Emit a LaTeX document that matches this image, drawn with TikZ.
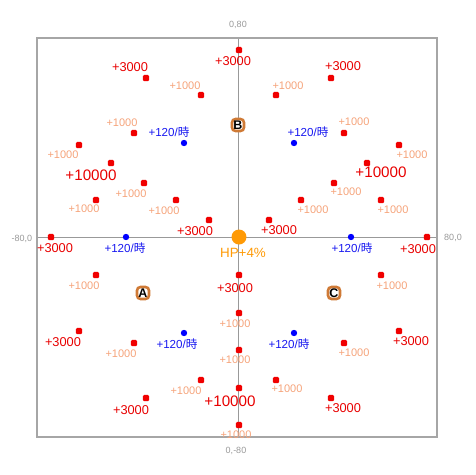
\documentclass[tikz,border=0pt]{standalone}
\usepackage{fontspec}
\setmainfont{Liberation Sans}
\newfontfamily\cjk{Noto Sans CJK JP}
\begin{document}
\begin{tikzpicture}[x=1pt,y=-1pt,
  rsq/.style={rectangle,fill=dotred,rounded corners=1.4pt,minimum size=6.4pt,inner sep=0pt},
  bdot/.style={circle,fill=blue,minimum size=6.4pt,inner sep=0pt},
  tbig/.style={text=txtred,font=\fontsize{12.8}{13}\selectfont,inner sep=0pt},
  thuge/.style={text=txtred,font=\fontsize{15.2}{16}\selectfont,inner sep=0pt},
  tlight/.style={text=lightsal,font=\fontsize{11}{12}\selectfont,inner sep=0pt},
  tblue/.style={text=txtblue,font=\fontsize{11.6}{12}\selectfont,inner sep=0pt},
  tax/.style={text=gray!80,font=\fontsize{9}{10}\selectfont,inner sep=0pt},
  mk/.style={draw=mkbrown,line width=2.6pt,fill=white,rounded corners=3.5pt,minimum size=12pt,inner sep=0pt,font=\fontsize{12.5}{12}\selectfont\bfseries},
]
\definecolor{lightsal}{HTML}{F5A37A}
\definecolor{mkbrown}{HTML}{CF7A36}
\definecolor{hporange}{HTML}{FF9A05}
\definecolor{dotred}{HTML}{F00000}
\definecolor{txtred}{HTML}{E80000}
\definecolor{txtblue}{HTML}{1818F0}
\useasboundingbox (0,0) rectangle (475,475);
% frame and axes
\coordinate (tl) at (37,38); \coordinate (br) at (437,437);
\coordinate (vt) at (238,38); \coordinate (vb) at (238,437);
\coordinate (hl) at (37,237); \coordinate (hr) at (437,237);
\draw[gray!80,line width=0.9pt] (vt) -- (vb);
\draw[gray!80,line width=0.9pt] (hl) -- (hr);
\draw[gray!70,line width=1.4pt] (tl) rectangle (br);
\node[tax] (ax1) at (238,25) {0,80};
\node[tax] (ax2) at (236,451) {0,-80};
\node[tax] (ax3) at (22,239) {-80,0};
\node[tax] (ax4) at (453,238) {80,0};
% red points
\foreach \n/\px/\py/\lx/\ly/\st/\tx in {
 1/146/78/130/67/tbig/+3000,
 2/201/95/185/86/tlight/+1000,
 3/134/133/122/123/tlight/+1000,
 4/79/145/63/155/tlight/+1000,
 5/111/163/91/175/thuge/+10000,
 6/144/183/131/194/tlight/+1000,
 7/96/200/84/209/tlight/+1000,
 8/176/200/164/211/tlight/+1000,
 9/209/220/195/231/tbig/+3000,
 10/51/237/55/248/tbig/+3000,
 11/239/50/233/61/tbig/+3000,
 12/331/78/343/66/tbig/+3000,
 13/276/95/288/86/tlight/+1000,
 14/344/133/354/122/tlight/+1000,
 15/399/145/412/155/tlight/+1000,
 16/367/163/381/172/thuge/+10000,
 17/334/183/346/192/tlight/+1000,
 18/301/200/313/210/tlight/+1000,
 19/381/200/393/210/tlight/+1000,
 20/269/220/279/230/tbig/+3000,
 21/427/237/418/249/tbig/+3000,
 22/239/275/235/288/tbig/+3000,
 23/239/313/235/324/tlight/+1000,
 24/239/350/235/360/tlight/+1000,
 25/239/388/230/401/thuge/+10000,
 26/239/425/236/435/tlight/+1000,
 27/96/275/84/286/tlight/+1000,
 28/79/331/63/342/tbig/+3000,
 29/134/343/121/354/tlight/+1000,
 30/201/380/186/391/tlight/+1000,
 31/146/398/131/410/tbig/+3000,
 32/381/275/392/286/tlight/+1000,
 33/399/331/411/341/tbig/+3000,
 34/344/343/354/353/tlight/+1000,
 35/276/380/287/389/tlight/+1000,
 36/331/398/343/408/tbig/+3000}{
  \node[rsq] (r\n) at (\px,\py) {};
  \node[\st] (rl\n) at (\lx,\ly) {\tx};
}
% blue points
\foreach \n/\px/\py/\lx/\ly in {
 1/184/143/169/132, 2/294/143/308/132, 3/126/237/125/248,
 4/351/237/352/248, 5/184/333/177/344, 6/294/333/289/344}{
  \node[bdot] (b\n) at (\px,\py) {};
  \node[tblue] (bl\n) at (\lx,\ly) {+120/{\cjk 時}};
}
% markers
\node[mk] (mA) at (143,293) {A};
\node[mk] (mB) at (238,125) {B};
\node[mk] (mC) at (334,293) {C};
% centre
\node[circle,fill=hporange,minimum size=15pt,inner sep=0pt] (hp) at (239,237) {};
\node[text=hporange,font=\fontsize{13.4}{14}\selectfont,inner sep=0pt] (hpl) at (243,253) {HP+4\%};
\end{tikzpicture}
\end{document}
